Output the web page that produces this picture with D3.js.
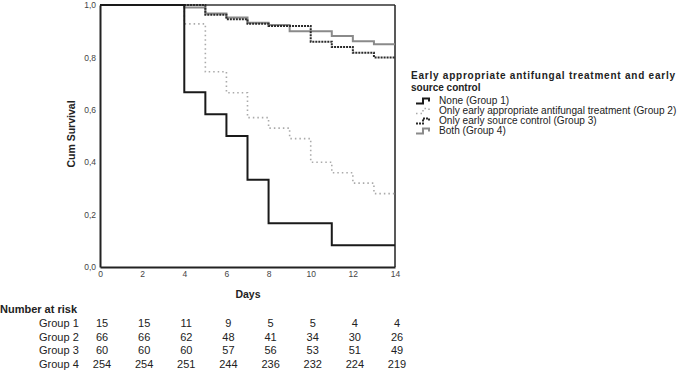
<!DOCTYPE html>
<html>
<head>
<meta charset="utf-8">
<script src="https://cdn.jsdelivr.net/npm/d3@7"></script>
<style>
  body { margin: 0; background: #fff; }
  text { font-family: "Liberation Sans", Arial, sans-serif; }
</style>
</head>
<body>
<div id="chart"></div>
<script>
// survival estimates, [day, value] at each step
var group1 = [[0, 1], [4, 0.667], [5, 0.583], [6, 0.5], [7, 0.333], [8, 0.167], [11, 0.083], [14, 0.083]];
var group2 = [[0, 1], [4, 0.928], [5, 0.745], [6, 0.665], [7, 0.57], [8, 0.53], [9, 0.49], [10, 0.40], [11, 0.36], [12, 0.32], [13, 0.28], [14, 0.28]];
var group3 = [[0, 1], [5, 0.963], [6, 0.946], [7, 0.928], [8, 0.92], [10, 0.86], [11, 0.84], [12, 0.818], [13, 0.80], [14, 0.80]];
var group4 = [[0, 1], [4, 0.99], [5, 0.968], [6, 0.952], [7, 0.932], [8, 0.924], [9, 0.90], [11, 0.882], [12, 0.862], [13, 0.85], [14, 0.85]];

var groupNames = ["None (Group 1)", "Only early appropriate antifungal treatment (Group 2)",
                  "Only early source control (Group 3)", "Both (Group 4)"];
var legendTitle = ["Early appropriate antifungal treatment and early", "source control"];

var riskDays = [0, 2, 4, 6, 8, 10, 12, 14];
var riskLabels = ["Group 1", "Group 2", "Group 3", "Group 4"];
var risk1 = [15, 15, 11, 9, 5, 5, 4, 4];
var risk2 = [66, 66, 62, 48, 41, 34, 30, 26];
var risk3 = [60, 60, 60, 57, 56, 53, 51, 49];
var risk4 = [254, 254, 251, 244, 236, 232, 224, 219];

var xTicks = [0, 2, 4, 6, 8, 10, 12, 14];
var yTicks = [0, 0.2, 0.4, 0.6, 0.8, 1.0];

function init() {
  var w = 677, h = 371;

  var svg = d3.select("#chart").append("svg")
    .attr("width", w).attr("height", h);

  var x = d3.scaleLinear().domain([0, 14]).range([100, 395]);
  var y = d3.scaleLinear().domain([0, 1]).range([267, 5]);

  // frame
  svg.append("line").attr("x1", x(0)).attr("x2", x(14)).attr("y1", y(1)).attr("y2", y(1))
    .attr("stroke", "#333").attr("stroke-width", 1.5);
  svg.append("line").attr("x1", x(14)).attr("x2", x(14)).attr("y1", y(1)).attr("y2", y(0))
    .attr("stroke", "#222").attr("stroke-width", 1.5);

  // axes (labels only)
  var yAxis = svg.append("g").attr("transform", "translate(" + x(0) + ",0)")
    .call(d3.axisLeft(y).tickValues(yTicks).tickSize(0).tickPadding(4)
      .tickFormat(function(d) { return d3.format(".1f")(d).replace(".", ","); }));
  var xAxis = svg.append("g").attr("transform", "translate(0," + y(0) + ")")
    .call(d3.axisBottom(x).tickValues(xTicks).tickSize(0).tickPadding(4));
  [xAxis, yAxis].forEach(function(a) {
    a.select(".domain").attr("stroke", "#222").attr("stroke-width", 2);
    a.selectAll("text").attr("font-size", 8.5).attr("fill", "#444")
      .attr("font-family", "'Liberation Sans', Arial, sans-serif");
  });

  svg.append("text").attr("x", 248).attr("y", 298).attr("text-anchor", "middle")
    .attr("font-size", 10.5).attr("font-weight", "bold").attr("fill", "#222").text("Days");
  svg.append("text").attr("transform", "translate(75,134) rotate(-90)")
    .attr("text-anchor", "middle").attr("font-size", 10.5).attr("font-weight", "bold")
    .attr("fill", "#222").text("Cum Survival");

  var styles = [
    { color: "#1a1a1a", width: 2, dash: null },
    { color: "#aaaaaa", width: 1.6, dash: "1.5,3" },
    { color: "#2a2a2a", width: 2, dash: "2,1" },
    { color: "#8a8a8a", width: 2, dash: null }
  ];
  var groups = [group1, group2, group3, group4];

  var line = d3.line()
    .x(function(d) { return x(d[0]); })
    .y(function(d) { return y(d[1]); })
    .curve(d3.curveStepAfter);

  // draw grey solid first so dotted ones sit on top
  [3, 1, 2, 0].forEach(function(i) {
    svg.append("path").datum(groups[i])
      .attr("d", line)
      .attr("fill", "none")
      .attr("stroke", styles[i].color)
      .attr("stroke-width", styles[i].width)
      .attr("stroke-dasharray", styles[i].dash);
  });

  // legend
  var lg = svg.append("g");
  lg.append("text").attr("x", 411).attr("y", 79).attr("font-size", 10).attr("font-weight", "bold")
    .attr("fill", "#222").attr("textLength", 264).attr("lengthAdjust", "spacing").text(legendTitle[0]);
  lg.append("text").attr("x", 411).attr("y", 90.5).attr("font-size", 10).attr("font-weight", "bold")
    .attr("fill", "#222").text(legendTitle[1]);

  var item = lg.selectAll(".item").data(groupNames).enter().append("g")
    .attr("transform", function(d, i) { return "translate(416," + (103.5 + i * 10) + ")"; });
  item.append("path")
    .attr("d", "M0,0 H7 V-5 H13 V-2")
    .attr("fill", "none")
    .attr("stroke", function(d, i) { return styles[i].color; })
    .attr("stroke-width", function(d, i) { return styles[i].width; })
    .attr("stroke-dasharray", function(d, i) { return styles[i].dash; });
  item.append("text").attr("x", 23).attr("y", 0).attr("font-size", 10.1).attr("fill", "#222")
    .text(function(d) { return d; });

  // number at risk table
  svg.append("text").attr("x", 0).attr("y", 313).attr("font-size", 11).attr("font-weight", "bold")
    .attr("fill", "#222").text("Number at risk");
  var risks = [risk1, risk2, risk3, risk4];
  risks.forEach(function(r, i) {
    var yy = 327 + i * 13.6;
    svg.append("text").attr("x", 39).attr("y", yy).attr("font-size", 11).attr("fill", "#222")
      .text(riskLabels[i]);
    svg.selectAll(".r" + i).data(r).enter().append("text")
      .attr("x", function(d, j) { return x(riskDays[j]) + 2; })
      .attr("y", yy).attr("text-anchor", "middle").attr("font-size", 11).attr("fill", "#222")
      .text(function(d) { return d; });
  });
}

window.onload = init;
</script>
</body>
</html>
